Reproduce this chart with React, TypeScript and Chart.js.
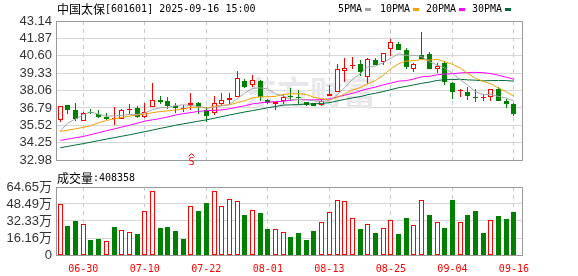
import React, { useEffect, useRef } from 'react';
import { Chart, registerables } from 'chart.js';

Chart.register(...registerables);

// ---------------- data ----------------
const DATES = ['06-25','06-26','06-27','06-30','07-01','07-02','07-03','07-04','07-07','07-08','07-09','07-10','07-11','07-14','07-15','07-16','07-17','07-18','07-21','07-22','07-23','07-24','07-25','07-28','07-29','07-30','07-31','08-01','08-04','08-05','08-06','08-07','08-08','08-11','08-12','08-13','08-14','08-15','08-18','08-19','08-20','08-21','08-22','08-25','08-26','08-27','08-28','08-29','09-01','09-02','09-03','09-04','09-05','09-08','09-09','09-10','09-11','09-12','09-15','09-16'];

const OPEN = [35.92,36.98,36.63,35.83,36.49,36.35,36.11,36.00,35.97,36.67, 36.77,36.11,36.88,37.40,37.33,36.95,36.75,36.98,37.12,36.67, 36.44,37.05,37.35,37.59,38.73,38.45,38.73,37.37,37.09,37.28, 37.68,37.61,37.21,37.12,36.98,37.66,37.98,39.48,39.88,39.97, 39.06,40.27,40.13,41.09,41.44,41.02,39.67,40.67,40.74,39.67, 40.04,38.64,38.03,37.94,37.61,37.49,37.59,38.17,37.33,37.05];
const HIGH = [36.97,36.99,37.16,36.48,36.70,36.63,36.39,36.84,36.72,37.05, 36.91,37.16,38.59,37.68,37.56,37.12,36.98,37.87,37.21,36.88, 37.68,37.87,37.87,39.50,38.92,39.20,38.80,37.47,37.23,37.82, 38.22,38.12,37.23,37.16,37.47,38.45,39.97,40.46,40.49,40.32, 40.42,40.46,40.83,41.82,41.59,41.19,40.04,42.31,40.91,40.04, 40.25,38.66,38.17,38.29,38.19,37.80,38.17,38.31,37.47,37.12];
const LOW = [35.74,36.35,35.81,35.82,36.35,36.06,35.88,35.53,35.96,36.35, 36.09,36.06,36.86,37.05,36.70,36.44,36.53,36.63,36.35,35.74, 36.30,37.02,37.05,37.56,38.22,38.29,37.33,37.05,36.65,37.09, 37.33,37.10,36.96,36.93,36.96,37.63,37.98,38.68,39.62,39.11, 38.57,39.90,39.90,40.56,41.00,39.67,39.39,40.35,39.65,39.34, 38.45,37.47,37.56,37.37,37.26,37.28,37.33,37.31,36.77,36.21];
const CLOSE = [36.95,36.67,36.02,36.46,36.39,36.11,36.02,36.06,36.67,36.74, 36.11,36.53,37.37,37.26,36.91,36.79,36.79,37.12,36.88,36.23, 37.16,37.37,37.54,39.01,38.31,38.87,37.56,37.14,37.21,37.61, 37.56,37.52,36.98,36.95,37.33,37.82,39.62,39.69,39.92,39.39, 40.39,39.92,40.81,41.59,41.02,39.81,39.97,40.37,39.67,39.85, 38.68,37.98,38.12,37.63,37.49,37.56,38.15,37.33,37.05,36.35];

const MA5 = [35.11,35.69,35.99,36.30,36.50,36.33,36.20,36.21,36.25,36.32, 36.32,36.42,36.68,36.80,36.84,36.97,37.02,36.97,36.90,36.76, 36.84,36.95,37.04,37.46,37.88,38.22,38.26,38.18,37.82,37.68, 37.42,37.41,37.38,37.32,37.27,37.32,37.74,38.28,38.88,39.29, 39.80,39.86,40.09,40.42,40.75,40.63,40.64,40.55,40.17,39.93, 39.71,39.31,38.86,38.45,37.98,37.76,37.79,37.63,37.52,37.29];
const MA10 = [35.08,35.17,35.27,35.38,35.50,35.72,35.88,36.00,36.10,36.20, 36.28,36.34,36.45,36.53,36.58,36.65,36.72,36.83,36.85,36.80, 36.90,36.99,37.01,37.18,37.32,37.53,37.61,37.61,37.64,37.78, 37.82,37.83,37.78,37.57,37.47,37.37,37.57,37.83,38.10,38.28, 38.56,38.80,39.18,39.65,40.02,40.22,40.25,40.32,40.29,40.34, 40.17,39.98,39.71,39.31,38.96,38.73,38.55,38.25,37.98,37.63];
const MA20 = [34.43,34.52,34.62,34.71,34.85,34.99,35.13,35.26,35.40,35.53, 35.68,35.83,35.93,36.02,36.14,36.28,36.38,36.46,36.54,36.60, 36.61,36.65,36.73,36.85,36.95,37.09,37.16,37.22,37.25,37.29, 37.36,37.41,37.39,37.38,37.40,37.45,37.59,37.72,37.87,38.03, 38.19,38.32,38.48,38.61,38.75,38.79,38.91,39.07,39.10,39.21, 39.27,39.29,39.35,39.38,39.39,39.37,39.30,39.18,39.04,38.89];
const MA30 = [33.89,33.99,34.09,34.19,34.30,34.41,34.52,34.62,34.73,34.83, 34.95,35.06,35.18,35.30,35.41,35.53,35.63,35.73,35.83,35.92, 36.04,36.16,36.28,36.39,36.50,36.60,36.70,36.81,36.90,37.00, 37.02,37.04,37.08,37.09,37.12,37.18,37.30,37.42,37.53,37.62, 37.76,37.87,37.99,38.13,38.27,38.37,38.48,38.59,38.68,38.80, 38.85,38.87,38.89,38.84,38.82,38.77,38.79,38.80,38.79,38.75];

// volume in 万手
const VOLUME = [48.5,27.6,32.3,29.5,14.3,15.2,13.3,26.6,23.8,21.9, 20.0,41.8,60.8,25.7,26.6,23.1,15.2,46.6,41.8,49.4, 60.8,46.6,53.2,51.3,38.0,42.8,40.2,24.7,24.4,21.9, 17.1,20.9,14.3,22.8,31.4,40.9,52.3,51.3,35.2,24.7, 29.5,20.9,25.7,33.0,20.0,35.2,28.5,52.0,38.0,31.4, 25.7,52.3,31.4,38.0,41.8,20.9,33.0,37.1,34.2,40.84];
// 1 = red (up) volume bar, 0 = green (down)
const VOL_UP = [1,0,0,1,0,0,1,0,1,1, 0,1,1,0,0,0,0,1,0,0, 1,1,1,1,0,1,0,0,1,1, 0,0,0,0,1,1,1,1,1,0, 1,0,1,1,0,0,1,1,0,1, 0,0,1,0,0,0,1,0,0,0];
const LAST_VOLUME = 408358;

const PRICE_TICKS = [32.98, 34.25, 35.52, 36.79, 38.06, 39.33, 40.60, 41.87, 43.14];
const VOLUME_TICKS = [0, 16.16, 32.33, 48.49, 64.65];
const LABEL_DATES = ['06-30','07-10','07-22','08-01','08-13','08-25','09-04','09-16'];
const MA_NAMES = ['5PMA', '10PMA', '20PMA', '30PMA'];
const MA_COLORS = ['#a6a6a6', '#f2a100', '#ff00ff', '#006b3c'];
const MA_SERIES = [MA5, MA10, MA20, MA30];
const STOCK_NAME = '中国太保';
const STOCK_INFO = '[601601] 2025-09-16 15:00';
const VOLUME_TITLE = '成交量';
const SIGNAL_DATE = '07-18';
const WATERMARK = '东方财富';

// ---------------- styles ----------------
const RED = '#ff0000';
const GREEN = '#008000';
const BORDER = '#9a9a9a';
const HGRID = '#d6d6d6';
const VGRID = '#c8c8c8';
const X_MIN = -0.55;
const X_MAX = 60.05;
const CJK = '"Noto Sans CJK SC"';
const MONO = '10px "DejaVu Sans Mono"';
const LABEL_IDX = LABEL_DATES.map((d) => DATES.indexOf(d));

function snapBars(chart: any) {
  chart.data.datasets.forEach((_: any, di: number) => {
    const meta = chart.getDatasetMeta(di);
    if (meta.type !== 'bar') return;
    meta.data.forEach((el: any) => {
      el.x = Math.round(el.x - 0.5) + 0.5;
      let top = Math.round(Math.min(el.y, el.base));
      let bot = Math.round(Math.max(el.y, el.base));
      if (bot - top < 1) bot = top + 1;
      if (el.y <= el.base) { el.y = top; el.base = bot; } else { el.y = bot; el.base = top; }
      el.height = bot - top;
    });
  });
}

function drawFrame(chart: any) {
  const { ctx, chartArea: a } = chart;
  ctx.save();
  ctx.strokeStyle = BORDER;
  ctx.lineWidth = 1;
  const l = Math.round(a.left), t = Math.round(a.top), r = Math.round(a.right), b = Math.round(a.bottom);
  ctx.strokeRect(l + 0.5, t + 0.5, r - l, b - t);
  ctx.restore();
}

function drawParts(ctx: CanvasRenderingContext2D, x: number, y: number, parts: [string, string][]) {
  for (const [text, font] of parts) {
    ctx.font = font;
    ctx.fillText(text, x, y);
    x += ctx.measureText(text).width;
  }
}

const mainDecor = {
  id: 'mainDecor',
  afterDatasetsUpdate(chart: any) { snapBars(chart); },
  beforeDatasetsDraw(chart: any) {
    const { ctx } = chart;
    ctx.save();
    ctx.fillStyle = '#e8e8ec';
    ctx.font = `bold 33px ${CJK}`;
    ctx.textBaseline = 'middle';
    ctx.fillText(WATERMARK, 244, 92);
    ctx.restore();
    drawFrame(chart);
  },
  afterDraw(chart: any) {
    const { ctx, scales } = chart;
    ctx.save();
    ctx.fillStyle = '#000';
    ctx.textBaseline = 'middle';
    drawParts(ctx, 57, 9, [[STOCK_NAME, `12px ${CJK}`], [STOCK_INFO, MONO]]);
    const starts = [338, 380, 426, 472];
    MA_NAMES.forEach((name, i) => {
      ctx.font = MONO;
      ctx.fillStyle = '#000';
      ctx.fillText(name, starts[i], 9);
      const w = ctx.measureText(name).width;
      ctx.fillStyle = MA_COLORS[i];
      ctx.fillRect(Math.round(starts[i] + w + 3), 8, 6, 3);
    });
    // buy signal marker
    const sx = Math.round(scales.x.getPixelForValue(DATES.indexOf(SIGNAL_DATE)));
    ctx.fillStyle = RED;
    ctx.strokeStyle = RED;
    ctx.lineWidth = 1;
    ctx.font = '10px "DejaVu Sans Mono"';
    ctx.textAlign = 'center';
    ctx.textBaseline = 'alphabetic';
    ctx.fillText('S', sx + 0.5, 165);
    ctx.beginPath();
    ctx.moveTo(sx - 2.5, 156.5);
    ctx.lineTo(sx + 0.5, 153.5);
    ctx.lineTo(sx + 3.5, 156.5);
    ctx.stroke();
    ctx.restore();
  },
};

const volDecor = {
  id: 'volDecor',
  afterDatasetsUpdate(chart: any) { snapBars(chart); },
  beforeDatasetsDraw(chart: any) { drawFrame(chart); },
  afterDraw(chart: any) {
    const { ctx } = chart;
    ctx.save();
    ctx.fillStyle = '#000';
    ctx.textBaseline = 'middle';
    drawParts(ctx, 57, 6, [[VOLUME_TITLE, `12px ${CJK}`], [':' + LAST_VOLUME, MONO]]);
    ctx.restore();
  },
};

function xScale(showLabels: boolean) {
  return {
    type: 'linear',
    min: X_MIN,
    max: X_MAX,
    bounds: 'data',
    offset: false,
    afterBuildTicks: (s: any) => { s.ticks = LABEL_IDX.map((v) => ({ value: v })); },
    afterFit: (s: any) => { s.height = showLabels ? 21 : 0; },
    ticks: {
      display: showLabels,
      autoSkip: false,
      maxRotation: 0,
      padding: 8,
      color: RED,
      font: { family: 'DejaVu Sans Mono', size: 10 },
      callback: (v: number) => DATES[Math.round(v)],
    },
    grid: { color: VGRID, lineWidth: 1, drawTicks: false, offset: false },
    border: { display: false, dash: [4, 4] },
  };
}

function yScale(min: number, max: number, ticks: number[], fmt: (v: number) => string) {
  return {
    type: 'linear',
    min,
    max,
    bounds: 'data',
    beginAtZero: false,
    afterBuildTicks: (s: any) => { s.ticks = ticks.map((v) => ({ value: v })); },
    afterFit: (s: any) => { s.width = 56; },
    ticks: {
      autoSkip: false,
      padding: 4,
      color: '#333',
      font: { family: 'Liberation Sans, "Noto Sans CJK SC"', size: 13 },
      callback: (v: number) => fmt(v),
    },
    grid: { color: HGRID, lineWidth: 1, drawTicks: false },
    border: { display: false },
  };
}

export default function App() {
  const mainRef = useRef<HTMLCanvasElement>(null);
  const volRef = useRef<HTMLCanvasElement>(null);

  useEffect(() => {
    const up = CLOSE.map((c, i) => c >= OPEN[i]);
    const candleColor = up.map((u) => (u ? RED : GREEN));

    const main = new Chart(mainRef.current as HTMLCanvasElement, {
      type: 'bar',
      data: {
        datasets: [
          ...MA_SERIES.map((series, k) => ({
            type: 'line' as const,
            label: MA_NAMES[k],
            data: series.map((y, x) => ({ x, y })),
            borderColor: MA_COLORS[k],
            borderWidth: 1,
            pointRadius: 0,
            tension: 0,
            order: 0,
          })),
          {
            type: 'bar' as const,
            label: 'body',
            data: OPEN.map((o, i) => ({ x: i, y: [o, CLOSE[i]] })),
            backgroundColor: up.map((u) => (u ? '#ffffff' : GREEN)),
            borderColor: candleColor,
            borderWidth: 1,
            borderSkipped: false,
            barThickness: 5,
            minBarLength: 1,
            grouped: false,
            inflateAmount: 0,
            order: 1,
          },
          {
            type: 'bar' as const,
            label: 'wick',
            data: LOW.map((l, i) => ({ x: i, y: [l, HIGH[i]] })),
            backgroundColor: candleColor,
            borderWidth: 0,
            borderSkipped: false,
            barThickness: 1,
            minBarLength: 1,
            grouped: false,
            inflateAmount: 0,
            order: 2,
          },
        ] as any,
      },
      options: {
        animation: false,
        responsive: false,
        devicePixelRatio: 1,
        events: [],
        layout: { padding: { top: 21, right: 56, bottom: 6, left: 0 } },
        plugins: { legend: { display: false }, tooltip: { enabled: false } },
        scales: {
          x: xScale(false) as any,
          y: yScale(PRICE_TICKS[0], PRICE_TICKS[PRICE_TICKS.length - 1], PRICE_TICKS, (v) => v.toFixed(2)) as any,
        },
      },
      plugins: [mainDecor],
    });

    const vol = new Chart(volRef.current as HTMLCanvasElement, {
      type: 'bar',
      data: {
        datasets: [
          {
            label: 'volume',
            data: VOLUME.map((v, i) => ({ x: i, y: v })),
            backgroundColor: VOL_UP.map((u) => (u ? '#ffffff' : GREEN)),
            borderColor: VOL_UP.map((u) => (u ? RED : GREEN)),
            borderWidth: 1,
            borderSkipped: false,
            barThickness: 5,
            grouped: false,
            inflateAmount: 0,
          } as any,
        ],
      },
      options: {
        animation: false,
        responsive: false,
        devicePixelRatio: 1,
        events: [],
        layout: { padding: { top: 15, right: 56, bottom: 0, left: 0 } },
        plugins: { legend: { display: false }, tooltip: { enabled: false } },
        scales: {
          x: xScale(true) as any,
          y: yScale(VOLUME_TICKS[0], VOLUME_TICKS[VOLUME_TICKS.length - 1], VOLUME_TICKS, (v) => (v === 0 ? '0' : v.toFixed(2) + '万')) as any,
        },
      },
      plugins: [volDecor],
    });

    return () => {
      main.destroy();
      vol.destroy();
    };
  }, []);

  return (
    <div style={{ position: 'absolute', left: 0, top: 0, width: 578, height: 276, background: '#fff', overflow: 'hidden' }}>
      <canvas ref={mainRef} width={578} height={172} style={{ position: 'absolute', left: 0, top: 0, width: 578, height: 172 }} />
      <canvas ref={volRef} width={578} height={104} style={{ position: 'absolute', left: 0, top: 172, width: 578, height: 104 }} />
    </div>
  );
}
